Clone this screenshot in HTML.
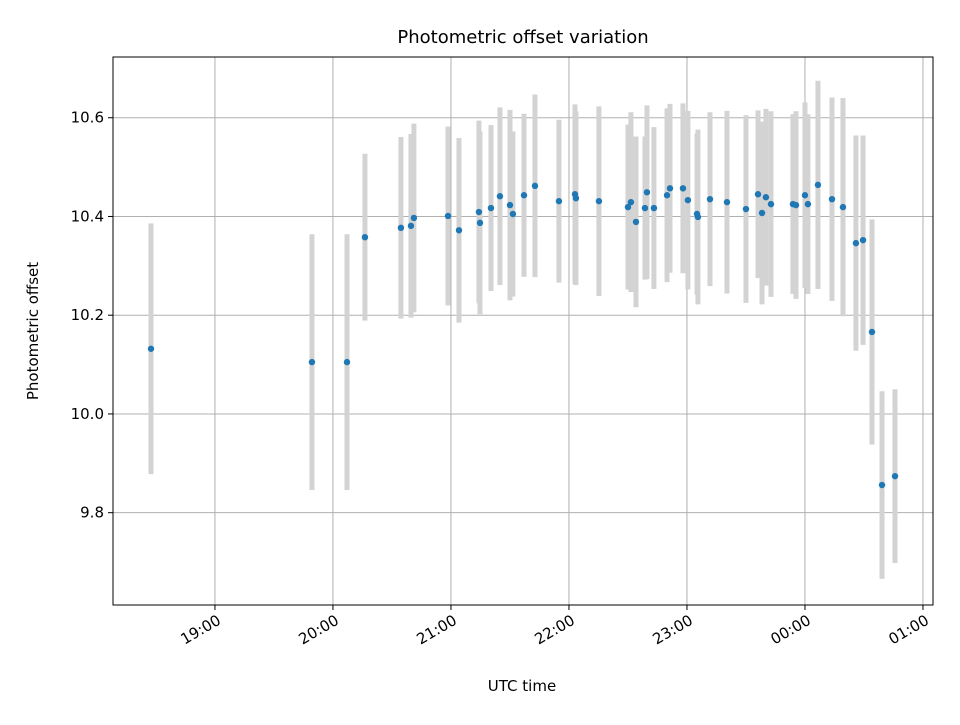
<!DOCTYPE html>
<html><head><meta charset="utf-8"><style>
body{margin:0;background:#fff;}
svg text{font-family:"DejaVu Sans","Liberation Sans",sans-serif;fill:#000;}
</style></head><body>
<svg id="chart" width="960" height="720" xmlns="http://www.w3.org/2000/svg">
<rect x="0" y="0" width="960" height="720" fill="#fff"/>
<g id="grid"></g><g id="bars"></g><g id="pts"></g><g id="axes"></g>
</svg>
<script>
const times=[18.458,19.822,20.119,20.271,20.576,20.661,20.686,20.975,21.068,21.237,21.246,21.339,21.415,21.5,21.525,21.619,21.712,21.915,22.051,22.059,22.254,22.5,22.525,22.568,22.661,22.644,22.72,22.831,22.856,22.966,23.008,23.085,23.093,23.195,23.339,23.5,23.602,23.636,23.669,23.712,23.898,23.924,24.0,24.025,24.11,24.229,24.322,24.432,24.492,24.568,24.653,24.763];
const values=[10.132,10.105,10.105,10.358,10.377,10.381,10.397,10.401,10.372,10.409,10.387,10.417,10.441,10.423,10.405,10.443,10.462,10.431,10.445,10.437,10.431,10.419,10.429,10.389,10.449,10.417,10.417,10.443,10.457,10.457,10.433,10.405,10.399,10.435,10.429,10.415,10.445,10.407,10.439,10.425,10.425,10.423,10.443,10.425,10.464,10.435,10.419,10.346,10.352,10.166,9.856,9.874];
const errors=[0.254,0.259,0.259,0.169,0.184,0.186,0.191,0.181,0.187,0.185,0.185,0.168,0.180,0.193,0.167,0.165,0.185,0.165,0.182,0.176,0.192,0.167,0.182,0.173,0.176,0.145,0.164,0.176,0.171,0.172,0.181,0.163,0.177,0.176,0.185,0.190,0.170,0.185,0.179,0.188,0.182,0.190,0.188,0.182,0.211,0.206,0.221,0.218,0.212,0.228,0.190,0.176];
const yTicks=[9.8,10.0,10.2,10.4,10.6];
const xTicks=[19,20,21,22,23,24,25];
const xTickLabels=["19:00","20:00","21:00","22:00","23:00","00:00","01:00"];
const L=113,R=933,T=57,B=605;
const xMin=18.136,xMax=25.085,yMin=9.613,yMax=10.723;
const X=t=>L+(t-xMin)/(xMax-xMin)*(R-L);
const Y=v=>B-(v-yMin)/(yMax-yMin)*(B-T);
const NS="http://www.w3.org/2000/svg";
function mk(tag,parent,attrs){const e=document.createElementNS(NS,tag);for(const k in attrs)e.setAttribute(k,attrs[k]);document.getElementById(parent).appendChild(e);return e;}
const grid='grid';
yTicks.forEach((v,i)=>{
 const g=mk('line',grid,{x1:L,x2:R,y1:Y(v),y2:Y(v),stroke:'#b0b0b0','stroke-width':1});
 
 
 const tk=mk('line','axes',{x1:L-5,x2:L,y1:Y(v),y2:Y(v),stroke:'#000'});
 
 
 const t=mk('text','axes',{x:L-9,y:Y(v)+5,'text-anchor':'end','font-size':15});
 t.textContent=v.toFixed(1);
 
 
});
xTicks.forEach((h,i)=>{
 const x=X(h);
 const g=mk('line',grid,{x1:x,x2:x,y1:T,y2:B,stroke:'#b0b0b0','stroke-width':1});
 
 
 const tk=mk('line','axes',{x1:x,x2:x,y1:B,y2:B+5,stroke:'#000'});
 
 
 const t=mk('text','axes',{x:x+4,y:B+19,'text-anchor':'end','font-size':15,transform:`rotate(-30 ${x+4} ${B+13})`});
 t.textContent=xTickLabels[i];
 
 
});
times.forEach((t,i)=>{
 const b=mk('line','bars',{x1:X(t),x2:X(t),y1:Y(values[i]+errors[i]),y2:Y(values[i]-errors[i]),stroke:'#d3d3d3','stroke-width':5});
 
 
});
times.forEach((t,i)=>{
 const p=mk('circle','pts',{cx:X(t),cy:Y(values[i]),r:3.2,fill:'#1f77b4'});
 
 
});
const fr=mk('rect','axes',{x:L,y:T,width:R-L,height:B-T,fill:'none',stroke:'#000','stroke-width':1});


const ti=mk('text','axes',{x:(L+R)/2,y:43,'text-anchor':'middle','font-size':18});
ti.textContent='Photometric offset variation';


const xl=mk('text','axes',{x:(L+R)/2-1,y:691,'text-anchor':'middle','font-size':15});
xl.textContent='UTC time';


const yl=mk('text','axes',{x:38,y:331,'text-anchor':'middle','font-size':15,transform:'rotate(-90 38 331)'});
yl.textContent='Photometric offset';


</script>
</body></html>
